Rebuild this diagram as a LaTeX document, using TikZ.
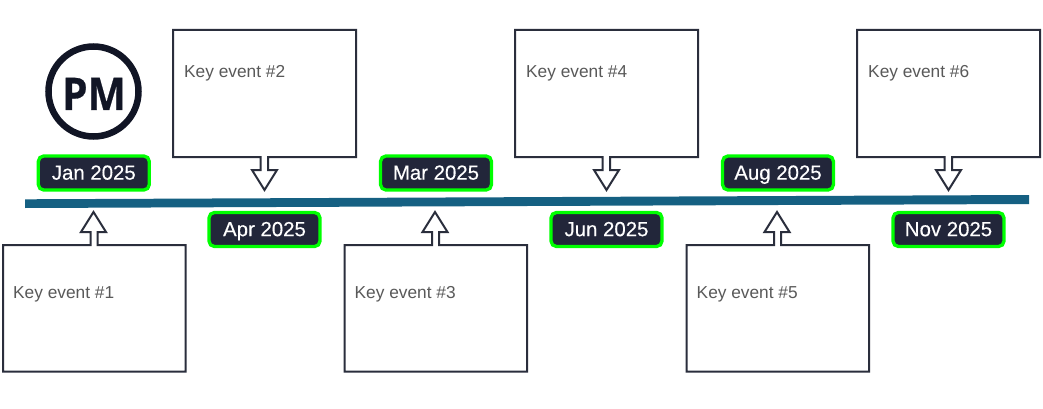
\documentclass[tikz,border=0pt]{standalone}
\usepackage{fontspec}
\setmainfont{Liberation Sans}
\newfontfamily\datefont[FakeBold=0.25]{Liberation Sans}
\newfontfamily\logofont[FakeBold=0.6]{Open Sans}
\definecolor{inkc}{HTML}{2A2E3C}
\definecolor{datec}{HTML}{22263A}
\definecolor{greenc}{HTML}{00FF00}
\definecolor{barc}{HTML}{156082}
\definecolor{logoc}{HTML}{111525}
\definecolor{textc}{HTML}{595959}
\tikzset{
  x=1pt,y=-1pt,
  callout/.style={draw=inkc,line width=2pt,fill=white,line join=miter},
  datetag/.style={draw=greenc,fill=datec,line width=3.3pt,rounded corners=5.5pt,minimum width=111pt,minimum height=34.1pt,inner sep=0pt,text=white,text height=14.3pt,text depth=1pt,font=\datefont\fontsize{20.4}{22}\selectfont},
  eventtext/.style={anchor=west,inner sep=0pt,text=textc,font=\fontsize{17.3}{20}\selectfont},
}
\newcommand{\downcallout}[2]{%
  \draw[callout] (#1,30) -- (#1+183,30) -- (#1+183,157) -- (#1+95,157) -- (#1+95,170) -- (#1+104,170) -- (#1+91.5,190) -- (#1+79,170) -- (#1+87.5,170) -- (#1+87.5,157) -- (#1,157) -- cycle;
  \node[eventtext] (#2) at (#1+11,73.5) {Key event \##2};}
\newcommand{\upcallout}[2]{%
  \draw[callout] (#1,245) -- (#1+87.5,245) -- (#1+87.5,232) -- (#1+78,232) -- (#1+90.5,212) -- (#1+103,232) -- (#1+94.5,232) -- (#1+94.5,245) -- (#1+182.5,245) -- (#1+182.5,371.5) -- (#1,371.5) -- cycle;
  \node[eventtext] (#2) at (#1+10,294.5) {Key event \##2};}
\begin{document}
\begin{tikzpicture}
\useasboundingbox (0,0) rectangle (1043,409);
\fill[white] (0,0) rectangle (1043,409);
\fill[barc] (25,199.3) -- (1029,195) -- (1029,204) -- (25,208) -- cycle;
\upcallout{3}{1}
\downcallout{173}{2}
\upcallout{344.5}{3}
\downcallout{515}{4}
\upcallout{686.5}{5}
\downcallout{857}{6}
\node[datetag] (jan) at (93.8,173) {Jan 2025};
\node[datetag] (apr) at (264.5,229.5) {Apr 2025};
\node[datetag] (mar) at (436,173) {Mar 2025};
\node[datetag] (jun) at (606.5,229.5) {Jun 2025};
\node[datetag] (aug) at (778,173) {Aug 2025};
\node[datetag] (nov) at (948.5,229.5) {Nov 2025};
\node[circle,draw=logoc,line width=6.5pt,minimum size=90pt,inner sep=0pt] (logo) at (93.5,91.5) {};
\node[inner sep=0pt,text=logoc,xscale=0.9,text height=33pt,text depth=0pt] (pm) at (94,93.5) {\logofont\bfseries\fontsize{45}{45}\selectfont PM};
\end{tikzpicture}
\end{document}
